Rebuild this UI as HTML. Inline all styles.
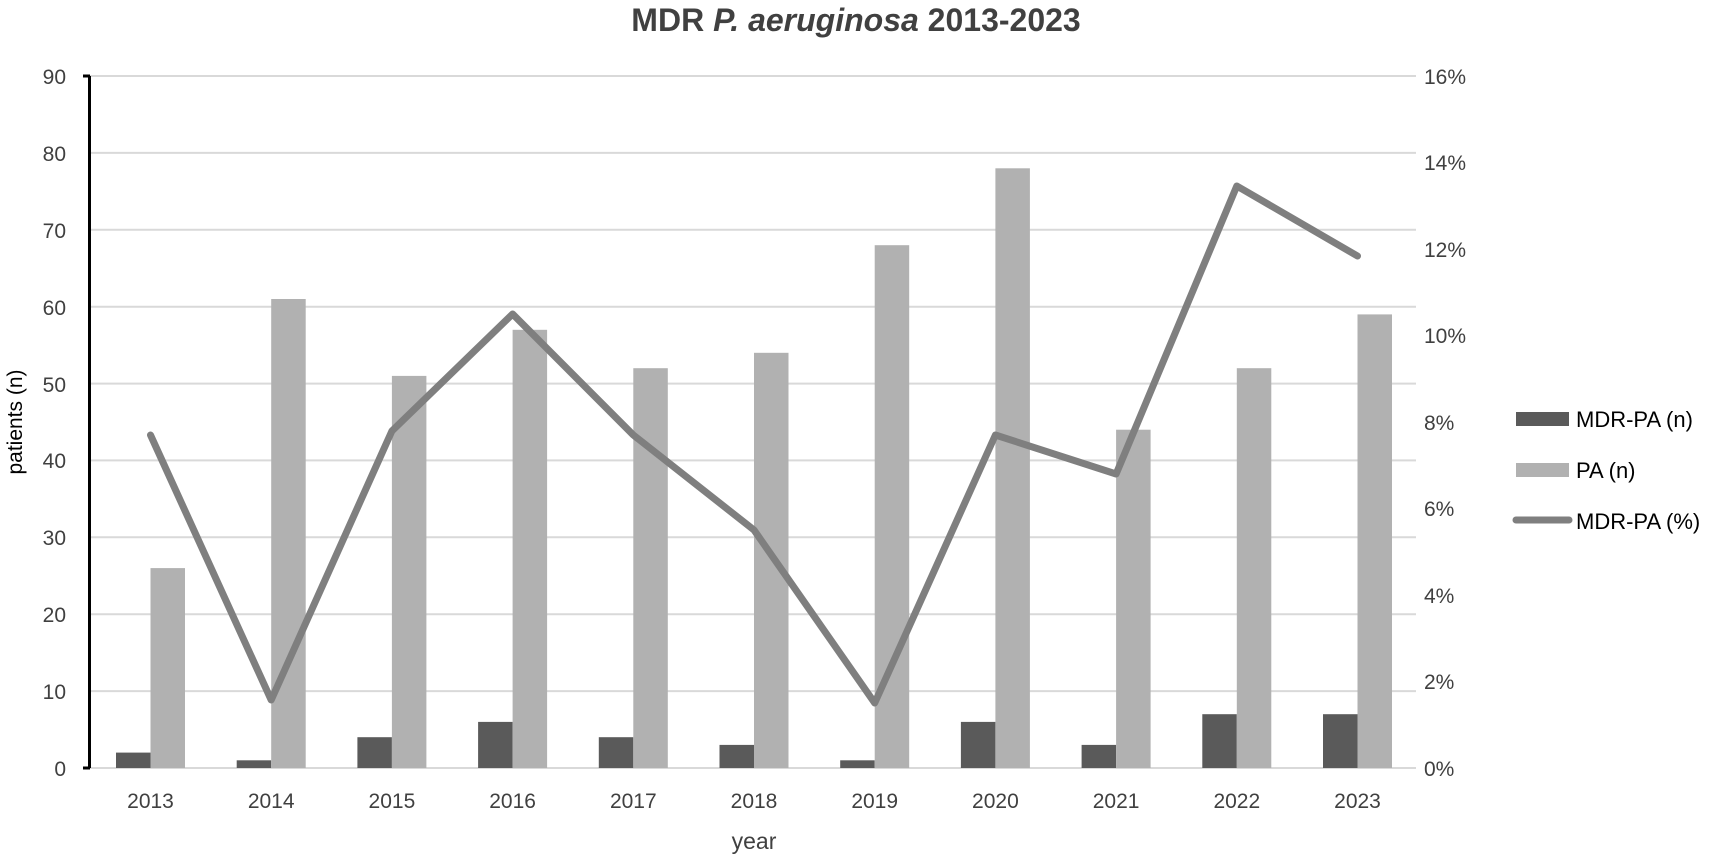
<!DOCTYPE html>
<html><head><meta charset="utf-8"><style>html,body{margin:0;padding:0;background:#fff}svg{display:block}text{font-family:"Liberation Sans",sans-serif;fill:#404040}</style></head>
<body>
<svg width="1713" height="856" viewBox="0 0 1713 856" xmlns="http://www.w3.org/2000/svg">
<text x="856" y="31" text-anchor="middle" font-size="32" font-weight="bold">MDR <tspan font-style="italic">P. aeruginosa</tspan> 2013-2023</text>
<g stroke="#d9d9d9" stroke-width="2">
<line x1="90" x2="1416" y1="76" y2="76"/><line x1="90" x2="1416" y1="152.9" y2="152.9"/><line x1="90" x2="1416" y1="229.8" y2="229.8"/><line x1="90" x2="1416" y1="306.7" y2="306.7"/><line x1="90" x2="1416" y1="383.6" y2="383.6"/><line x1="90" x2="1416" y1="460.4" y2="460.4"/><line x1="90" x2="1416" y1="537.3" y2="537.3"/><line x1="90" x2="1416" y1="614.2" y2="614.2"/><line x1="90" x2="1416" y1="691.1" y2="691.1"/><line x1="90" x2="1416" y1="768" y2="768"/>
</g>
<g font-size="21" text-anchor="end">
<text x="66" y="84">90</text><text x="66" y="161">80</text><text x="66" y="238">70</text><text x="66" y="315">60</text><text x="66" y="392">50</text><text x="66" y="468">40</text><text x="66" y="545">30</text><text x="66" y="622">20</text><text x="66" y="699">10</text><text x="66" y="776">0</text>
</g>
<g font-size="21">
<text x="1424" y="84">16%</text><text x="1424" y="170">14%</text><text x="1424" y="257">12%</text><text x="1424" y="343">10%</text><text x="1424" y="430">8%</text><text x="1424" y="516">6%</text><text x="1424" y="603">4%</text><text x="1424" y="689">2%</text><text x="1424" y="776">0%</text>
</g>
<line x1="89.5" y1="76" x2="89.5" y2="768" stroke="#000" stroke-width="3"/>
<line x1="83" y1="76" x2="90" y2="76" stroke="#000" stroke-width="3"/>
<line x1="83" y1="768" x2="90" y2="768" stroke="#000" stroke-width="3"/>
<g fill="#5a5a5a">
<rect x="116" y="752.6" width="34.5" height="15.4"/>
<rect x="236.7" y="760.3" width="34.5" height="7.7"/>
<rect x="357.4" y="737.2" width="34.5" height="30.8"/>
<rect x="478.1" y="721.9" width="34.5" height="46.1"/>
<rect x="598.8" y="737.2" width="34.5" height="30.8"/>
<rect x="719.5" y="744.9" width="34.5" height="23.1"/>
<rect x="840.2" y="760.3" width="34.5" height="7.7"/>
<rect x="960.9" y="721.9" width="34.5" height="46.1"/>
<rect x="1081.6" y="744.9" width="34.5" height="23.1"/>
<rect x="1202.3" y="714.2" width="34.5" height="53.8"/>
<rect x="1323" y="714.2" width="34.5" height="53.8"/>
</g>
<g fill="#b1b1b1">
<rect x="150.5" y="568.1" width="34.5" height="199.9"/>
<rect x="271.2" y="299" width="34.5" height="469"/>
<rect x="391.9" y="375.9" width="34.5" height="392.1"/>
<rect x="512.6" y="329.8" width="34.5" height="438.2"/>
<rect x="633.3" y="368.2" width="34.5" height="399.8"/>
<rect x="754" y="352.8" width="34.5" height="415.2"/>
<rect x="874.7" y="245.2" width="34.5" height="522.8"/>
<rect x="995.4" y="168.3" width="34.5" height="599.7"/>
<rect x="1116.1" y="429.7" width="34.5" height="338.3"/>
<rect x="1236.8" y="368.2" width="34.5" height="399.8"/>
<rect x="1357.5" y="314.4" width="34.5" height="453.6"/>
</g>
<polyline fill="none" stroke="#7f7f7f" stroke-width="7" stroke-linejoin="round" stroke-linecap="round"
points="150.5,435 271.2,700 391.9,431 512.6,314 633.3,435 754,530 874.7,703 995.4,435 1116.1,474 1236.8,186 1357.5,256"/>
<g font-size="21" text-anchor="middle">
<text x="150.5" y="808">2013</text><text x="271.2" y="808">2014</text><text x="391.9" y="808">2015</text><text x="512.6" y="808">2016</text><text x="633.3" y="808">2017</text><text x="754" y="808">2018</text><text x="874.7" y="808">2019</text><text x="995.4" y="808">2020</text><text x="1116.1" y="808">2021</text><text x="1236.8" y="808">2022</text><text x="1357.5" y="808">2023</text>
</g>
<text x="754" y="849" font-size="23" text-anchor="middle">year</text>
<text transform="translate(22,422) rotate(-90)" font-size="21" text-anchor="middle" style="fill:#000">patients (n)</text>
<rect x="1516" y="412" width="53" height="14" fill="#5a5a5a"/>
<rect x="1516" y="463" width="53" height="14" fill="#b1b1b1"/>
<line x1="1516" y1="520" x2="1569" y2="520" stroke="#7f7f7f" stroke-width="7" stroke-linecap="round"/>
<g font-size="22">
<text x="1576" y="427" style="fill:#000">MDR-PA (n)</text>
<text x="1576" y="478" style="fill:#000">PA (n)</text>
<text x="1576" y="529" style="fill:#000">MDR-PA (%)</text>
</g>
</svg>
</body></html>
